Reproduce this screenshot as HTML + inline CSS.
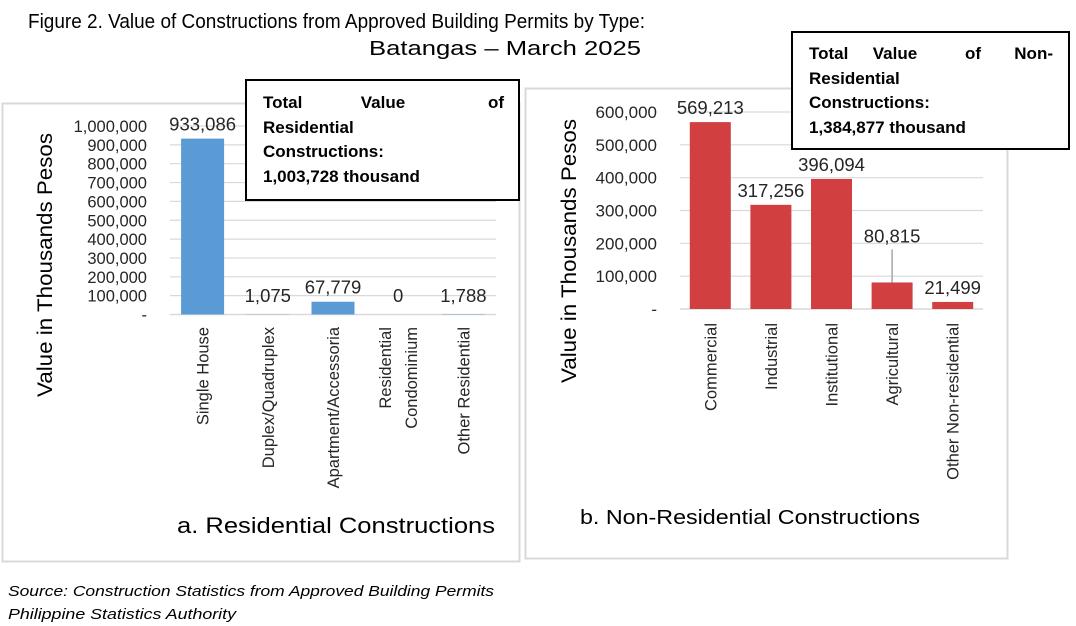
<!DOCTYPE html>
<html><head><meta charset="utf-8"><style>
body{margin:0;background:#fff;width:1076px;height:626px;overflow:hidden;font-family:"Liberation Sans",sans-serif}
svg{position:absolute;left:0;top:0}
.tick{font-size:16.5px;fill:#262626}
.tickr{font-size:17px;fill:#262626}
.lbl{font-size:16.5px;fill:#262626}
.val{font-size:18.5px;fill:#262626}
.box text{font-size:17px;font-weight:bold;fill:#000}
</style></head><body>
<svg id="c" width="1076" height="626">
<text x="28" y="28" font-size="20" textLength="617" lengthAdjust="spacingAndGlyphs">Figure 2.  Value of Constructions from Approved Building Permits by Type:</text>
<text x="369" y="55" font-size="20.5" textLength="272" lengthAdjust="spacingAndGlyphs">Batangas – March 2025</text>
<rect x="2.5" y="103.5" width="517" height="458" fill="none" stroke="#d9d9d9" stroke-width="2"/>
<rect x="525.5" y="88.5" width="482" height="470" fill="none" stroke="#d9d9d9" stroke-width="2"/>
<g id="left"></g><g id="right"></g>
<text x="177" y="533" font-size="22" textLength="318" lengthAdjust="spacingAndGlyphs">a. Residential Constructions</text>
<text x="580" y="524" font-size="20" textLength="340" lengthAdjust="spacingAndGlyphs">b. Non-Residential Constructions</text>
<g class="box">
<rect x="246" y="80" width="273" height="120" fill="#fff" stroke="#000" stroke-width="2"/>
<text x="263" y="108">Total</text><text x="383" y="108" text-anchor="middle">Value</text><text x="504" y="108" text-anchor="end">of</text>
<text x="263" y="133">Residential</text><text x="263" y="157">Constructions:</text><text x="263" y="182">1,003,728 thousand</text>
</g>
<g class="box">
<rect x="792" y="32" width="277" height="117" fill="#fff" stroke="#000" stroke-width="2"/>
<text x="809" y="59">Total</text><text x="895" y="59" text-anchor="middle">Value</text><text x="973" y="59" text-anchor="middle">of</text><text x="1053" y="59" text-anchor="end">Non-</text>
<text x="809" y="84">Residential</text><text x="809" y="108">Constructions:</text><text x="809" y="133">1,384,877 thousand</text>
</g>
<text x="8" y="596" font-size="15" font-style="italic" textLength="486" lengthAdjust="spacingAndGlyphs">Source: Construction Statistics from Approved Building Permits</text>
<text x="8" y="619" font-size="15" font-style="italic" textLength="228" lengthAdjust="spacingAndGlyphs">Philippine Statistics Authority</text>
</svg>
<script>
const resCategories=[["Single House"],["Duplex/Quadruplex"],["Apartment/Accessoria"],["Residential","Condominium"],["Other Residential"]];
const resValues=[933086,1075,67779,0,1788];
const resTicks=[0,100000,200000,300000,400000,500000,600000,700000,800000,900000,1000000];
const nonCategories=[["Commercial"],["Industrial"],["Institutional"],["Agricultural"],["Other Non-residential"]];
const nonValues=[569213,317256,396094,80815,21499];
const nonTicks=[0,100000,200000,300000,400000,500000,600000];
const NS="http://www.w3.org/2000/svg";
function mk(p,t,a){const e=document.createElementNS(NS,t);for(const k in a)e.setAttribute(k,a[k]);p.appendChild(e);return e;}
const fmt=v=>v===0?"-":v.toLocaleString("en-US");
function chart(g,cats,vals,ticks,o){
  const y=v=>o.y0-(v-ticks[0])/(ticks[ticks.length-1]-ticks[0])*(o.y0-o.y1);
  const cw=(o.x1-o.x0)/cats.length;
  ticks.forEach(t=>{
    const l=mk(g,"line",{x1:o.x0,x2:o.x1,y1:y(t),y2:y(t),stroke:"#d9d9d9","stroke-width":t===0?1.5:1.2});
    
    
    const tx=mk(g,"text",{x:o.tx,y:y(t)+6,"text-anchor":"end",class:o.tcls});tx.textContent=fmt(t);
    
    
  });
  cats.forEach((c,i)=>{
    const cx=o.x0+cw*(i+0.5),v=vals[i];
    const r=mk(g,"rect",{x:cx-o.bw/2,y:y(v),width:o.bw,height:o.y0-y(v),fill:o.color});
    
    
    let ly=y(v)-8;
    if(o.minLbl&&ly>o.minLbl)ly=o.minLbl;
    if(o.lead&&o.lead[i]){ly=y(v)-40;const ln=mk(g,"line",{x1:cx,x2:cx,y1:ly+7,y2:y(v),stroke:"#a6a6a6","stroke-width":1.5});
      
      }
    const vt=mk(g,"text",{x:cx,y:ly,"text-anchor":"middle",class:"val"});vt.textContent=v.toLocaleString("en-US");
    
    
    const n=c.length;
    c.forEach((s,j)=>{
      const xx=cx+6+(j-(n-1)/2)*26;
      const t=mk(g,"text",{x:xx,y:o.ly,"text-anchor":"end",class:"lbl",transform:`rotate(-90 ${xx} ${o.ly})`});t.textContent=s;
      
      
    });
  });
  const at=mk(g,"text",{x:o.ax,y:o.ay,"text-anchor":"middle","font-size":21,textLength:264,lengthAdjust:"spacingAndGlyphs",transform:`rotate(-90 ${o.ax} ${o.ay})`});at.textContent="Value in Thousands Pesos";
  
  
}
chart(document.getElementById("left"),resCategories,resValues,resTicks,{x0:170,x1:496,y0:314.5,y1:126,bw:43,color:"#5b9bd5",tx:147,ly:327,ax:52,ay:265,minLbl:302,tcls:"tick"});
chart(document.getElementById("right"),nonCategories,nonValues,nonTicks,{x0:680,x1:983,y0:309,y1:112,bw:41,color:"#d13f40",tx:657,ly:323,ax:576,ay:251,lead:[0,0,0,1,0],tcls:"tickr"});
</script>
</body></html>
